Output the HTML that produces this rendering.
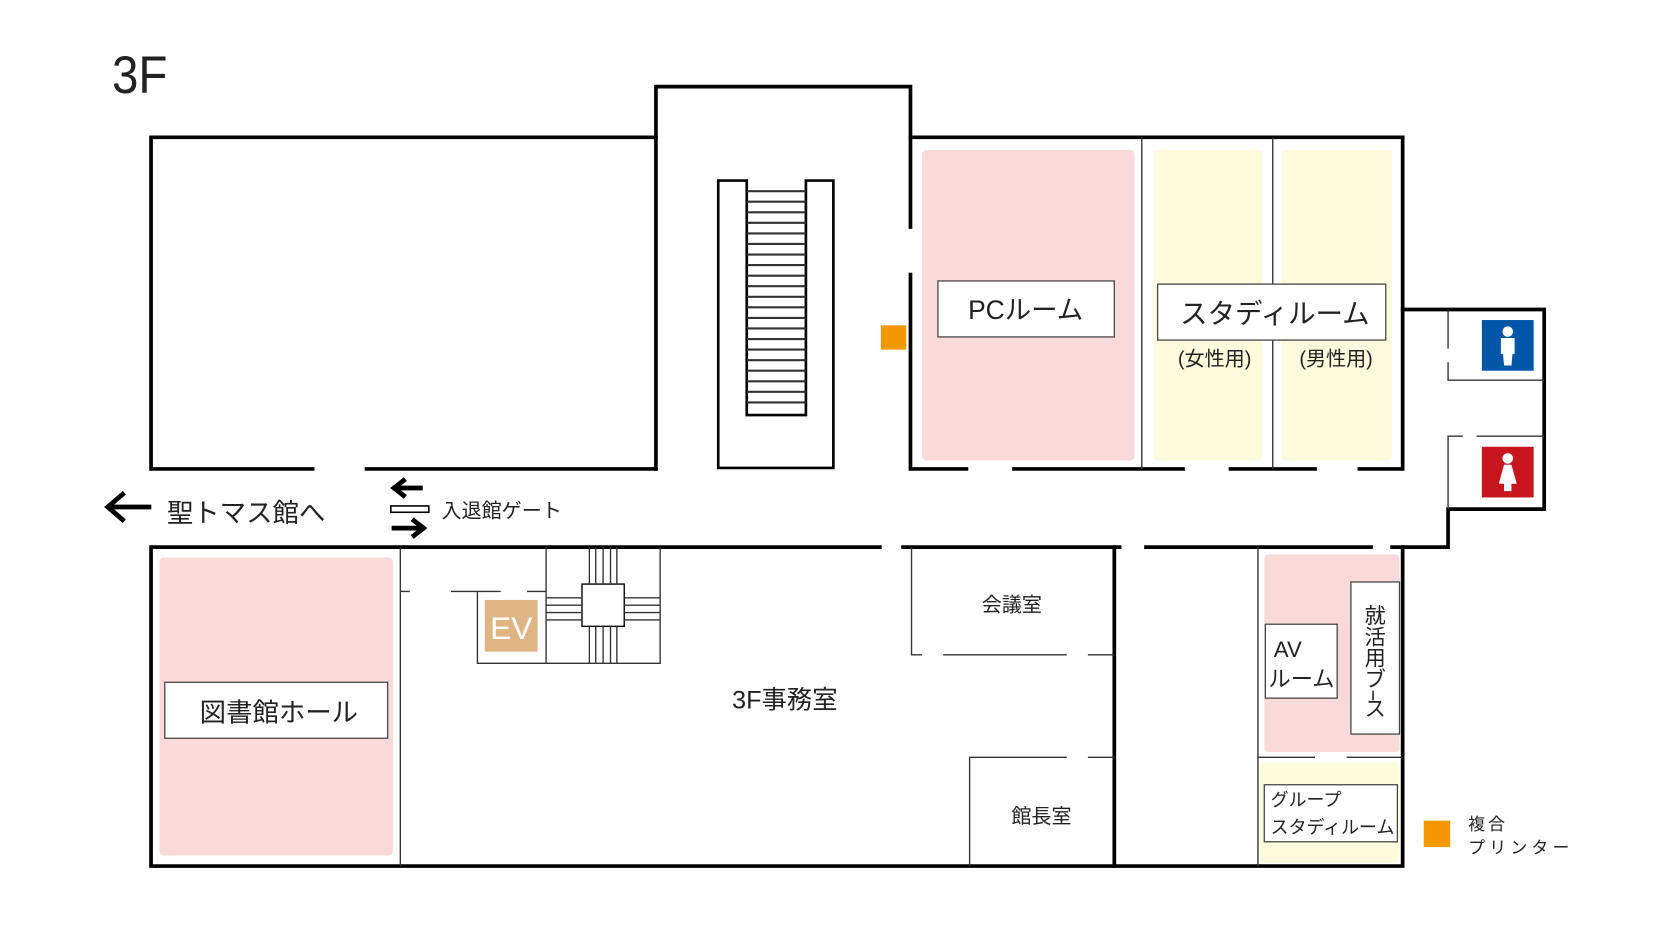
<!DOCTYPE html>
<html><head><meta charset="utf-8"><style>
html,body{margin:0;padding:0;background:#fff;}
svg{display:block;}
text{font-family:"Liberation Sans","Noto Sans CJK JP",sans-serif;fill:#222;}
</style></head><body>
<svg width="1653" height="949" viewBox="0 0 1565 898.5" xmlns="http://www.w3.org/2000/svg">
<rect width="1565" height="899" fill="#fff"/>
<text x="106" y="88" font-size="50" transform="translate(106 0) scale(0.9 1) translate(-106 0)">3F</text>

<!-- fills -->
<rect x="873" y="142" width="201" height="294" rx="4" fill="#f9dad9"/>
<rect x="1092" y="142" width="103" height="294" rx="4" fill="#fefadc"/>
<rect x="1213" y="142" width="105" height="294" rx="4" fill="#fefadc"/>
<rect x="151" y="528" width="221" height="282" rx="4" fill="#f9dad9"/>
<rect x="1197" y="525" width="128" height="187" rx="4" fill="#f9dad9"/>
<rect x="1193" y="722" width="132" height="95" rx="4" fill="#fefadc"/>

<g fill="none" stroke="#000" stroke-width="3.5" stroke-linecap="square">
<path d="M621 130 H143 V444 H296"/>
<path d="M347 444 H621"/>
<path d="M621 444 V82 H862 V215"/>
<path d="M862 260 V444 H915"/>
<path d="M960 444 H1120 M1165 444 H1245 M1287 444 H1328 V130 H862"/>
<path d="M1328 293 H1462 V482 H1371 V518 H1318"/>
<path d="M833 518 H143 V820 H1328 V518 M855 518 H1060 M1085 518 H1298"/>
<path d="M1055 518 V820"/>
</g>
<g fill="none" stroke="#000" stroke-width="2.5">
<path d="M680 171 H707 V393 H763 V171 H789 V443 H680 Z"/>
</g>
<g stroke="#333" stroke-width="2">
<line x1="707" y1="181" x2="763" y2="181"/><line x1="707" y1="191" x2="763" y2="191"/><line x1="707" y1="201" x2="763" y2="201"/><line x1="707" y1="211" x2="763" y2="211"/><line x1="707" y1="221" x2="763" y2="221"/><line x1="707" y1="231" x2="763" y2="231"/><line x1="707" y1="241" x2="763" y2="241"/><line x1="707" y1="251" x2="763" y2="251"/><line x1="707" y1="261" x2="763" y2="261"/><line x1="707" y1="271" x2="763" y2="271"/><line x1="707" y1="281" x2="763" y2="281"/><line x1="707" y1="291" x2="763" y2="291"/><line x1="707" y1="301" x2="763" y2="301"/><line x1="707" y1="311" x2="763" y2="311"/><line x1="707" y1="321" x2="763" y2="321"/><line x1="707" y1="331" x2="763" y2="331"/><line x1="707" y1="341" x2="763" y2="341"/><line x1="707" y1="351" x2="763" y2="351"/><line x1="707" y1="361" x2="763" y2="361"/><line x1="707" y1="371" x2="763" y2="371"/><line x1="707" y1="381" x2="763" y2="381"/>
</g>

<g fill="none" stroke="#333" stroke-width="1.3">
<line x1="1081" y1="130" x2="1081" y2="444"/>
<line x1="1205" y1="130" x2="1205" y2="444"/>
<path d="M1371 293 V330 M1371 343 V360 H1462"/>
<path d="M1385 413 H1371 V482 M1398 413 H1462"/>
<line x1="379" y1="518" x2="379" y2="820"/>
<path d="M379 560 H388 M427 560 H474 M499 560 H517"/>
<path d="M452 560 V628 H625 V518 M517 518 V628"/>
<rect x="551" y="553" width="40" height="40" stroke="#000"/>
<path d="M517 566 H551 M517 573 H551 M517 580 H551 M517 587 H551 M591 566 H625 M591 573 H625 M591 580 H625 M591 587 H625"/>
<path d="M558 518 V553 M564 518 V553 M571 518 V553 M578 518 V553 M584 518 V553 M558 593 V628 M564 593 V628 M571 593 V628 M578 593 V628 M584 593 V628"/>
<path d="M863 518 V620 H873 M893 620 H1010 M1030 620 H1055"/>
<path d="M918 820 V717 H1010 M1030 717 H1055"/>
<line x1="1191" y1="518" x2="1191" y2="820"/>
<path d="M1191 717 H1245 M1275 717 H1328"/>
</g>

<g fill="#fff" stroke="#444" stroke-width="1.2">
<rect x="888" y="266" width="167" height="53"/>
<rect x="1096" y="269" width="216" height="53"/>
<rect x="156" y="646" width="211" height="53"/>
<rect x="1198" y="591" width="68" height="70"/>
<rect x="1279" y="551" width="46" height="144"/>
<rect x="1197" y="743" width="126" height="54"/>
</g>

<rect x="834" y="308" width="24" height="23" fill="#f39800"/>
<rect x="1348" y="777" width="25" height="25" fill="#f39800"/>
<rect x="459" y="568" width="50" height="49" fill="#e0b584"/>
<text x="484" y="605" font-size="30" style="fill:#fff" text-anchor="middle">EV</text>

<rect x="1403" y="303" width="49" height="48" fill="#0057a8"/>
<circle cx="1427.5" cy="314" r="5" fill="#fff"/>
<path d="M1421 320 H1434 V335 H1432 L1431 346 H1424 L1423 335 H1421 Z" fill="#fff"/>
<rect x="1403" y="423" width="49" height="48" fill="#c8161e"/>
<circle cx="1427.5" cy="434" r="5" fill="#fff"/>
<path d="M1424 440 H1431 L1436 458 H1431 V465 H1424 V458 H1419 Z" fill="#fff"/>

<text x="971" y="302" font-size="25" text-anchor="middle">PCルーム</text>
<text x="1207" y="306" font-size="26" text-anchor="middle">スタディルーム</text>
<text x="1150" y="346" font-size="19" text-anchor="middle">(女性用)</text>
<text x="1265" y="346" font-size="19" text-anchor="middle">(男性用)</text>
<text x="264" y="683" font-size="25" text-anchor="middle">図書館ホール</text>
<text x="743" y="671" font-size="24" text-anchor="middle">3F事務室</text>
<text x="958" y="579" font-size="19" text-anchor="middle">会議室</text>
<text x="986" y="779" font-size="19" text-anchor="middle">館長室</text>
<text x="1206" y="622" font-size="21">AV</text>
<text x="1201" y="650" font-size="21">ルーム</text>
<text font-size="20" text-anchor="middle"><tspan x="1302" y="590">就</tspan><tspan x="1302" y="610">活</tspan><tspan x="1302" y="630">用</tspan><tspan x="1302" y="650">ブ</tspan><tspan x="1302" y="678">ス</tspan></text>
<line x1="1300" y1="654" x2="1300" y2="663" stroke="#222" stroke-width="1.5"/>
<text x="1203" y="763" font-size="17">グループ</text>
<text x="1203" y="789" font-size="17">スタディルーム</text>
<text x="1390" y="786" font-size="16" letter-spacing="3">複合</text>
<text x="1390" y="808" font-size="16" letter-spacing="4">プリンター</text>
<text x="158" y="494" font-size="25">聖トマス館へ</text>
<text x="418" y="490" font-size="19">入退館ゲート</text>

<g fill="none" stroke="#000" stroke-width="4.5" stroke-linecap="square">
<path d="M141 480 H104 M116 468 L102 480 L116 492"/>
<path d="M398 462 H374 M382 455 L373 462 L382 469"/>
<path d="M373 500 H400 M392 493 L401 500 L392 507"/>
</g>
<rect x="370" y="479" width="36" height="6" fill="#fff" stroke="#000" stroke-width="1.5"/>
</svg>
</body></html>
